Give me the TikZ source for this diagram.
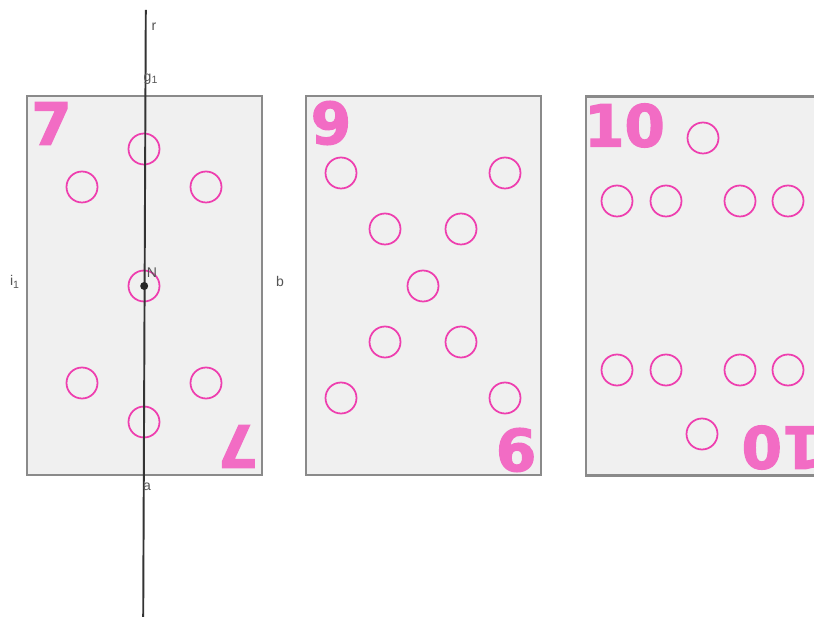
\documentclass[tikz,border=0pt]{standalone}
\usepackage{fontspec}
\setmainfont{Liberation Sans}
\newfontfamily\digitfont{DejaVu Sans}[BoldFeatures={FakeBold=2.2}]
\usetikzlibrary{positioning}
\definecolor{NicePink}{HTML}{F26CC4}
\definecolor{PinkRing}{HTML}{EE3FAF}
\definecolor{CardFill}{HTML}{F0F0F0}
\definecolor{CardEdge}{HTML}{8A8A8A}
\definecolor{LabelGray}{HTML}{555555}

\tikzset{
  card/.style={draw=CardEdge, fill=CardFill, line width=1.2pt, minimum width=4.7cm, minimum height=7.58cm, inner sep=0pt},
  ring/.style={circle, draw=PinkRing, line width=1pt, minimum size=0.62cm, inner sep=0pt},
  bignum/.style={text=NicePink, font=\digitfont\bfseries\fontsize{33}{33}\selectfont, inner sep=0pt},
  lbl/.style={text=LabelGray, font=\fontsize{8}{8}\selectfont, inner sep=0pt}
}

\begin{document}
\begin{tikzpicture}[x=0.02cm, y=-0.02cm]
    \useasboundingbox (0,0) rectangle (814,617);
    \clip (0,0) rectangle (814,617);

    % the three cards
    \node[card] (card7) at (144.5,285.5) {};
    \node[card] (card9) at (423.5,285.5) {};
    \node[card] (card10) at (703.5,286) {};

    % card 7
    \node[bignum] (num7) at (51.5,123.5) {7};
    \node[bignum, rotate=180] (num7r) at (238,446.5) {7};
    \node[ring] (s1) at (144,149) {};
    \node[ring] (s2) at (82,187) {};
    \node[ring] (s3) at (206,187) {};
    \node[ring] (s4) at (144,286) {};
    \node[ring] (s5) at (82,383) {};
    \node[ring] (s6) at (206,383) {};
    \node[ring] (s7) at (144,422) {};

    % card 9
    \node[bignum] (num9) at (331,123) {9};
    \node[bignum, rotate=180] (num9r) at (516,450) {9};
    \node[ring] (n1) at (341,173) {};
    \node[ring] (n2) at (505,173) {};
    \node[ring] (n3) at (385,229) {};
    \node[ring] (n4) at (461,229) {};
    \node[ring] (n5) at (423,286) {};
    \node[ring] (n6) at (385,342) {};
    \node[ring] (n7) at (461,342) {};
    \node[ring] (n8) at (341,398) {};
    \node[ring] (n9) at (505,398) {};

    % card 10
    \node[bignum] (num10) at (624.5,125.5) {10};
    \node[bignum, rotate=180] (num10r) at (782,447.5) {10};
    \node[ring] (t1) at (703,138) {};
    \node[ring] (t2) at (617,201) {};
    \node[ring] (t3) at (666,201) {};
    \node[ring] (t4) at (740,201) {};
    \node[ring] (t5) at (788,201) {};
    \node[ring] (t6) at (617,370) {};
    \node[ring] (t7) at (666,370) {};
    \node[ring] (t8) at (740,370) {};
    \node[ring] (t9) at (788,370) {};
    \node[ring] (t10) at (702,434) {};

    % axis r through card 7
    \coordinate (rtop) at (145.8,10);
    \coordinate (rbot) at (143.2,617);
    \draw[black!80, line width=1.1pt] (rtop) -- (rbot);
    \fill[black!85] (144.2,286) circle (4) coordinate (N);

    % labels
    \node[lbl] (labr) at (154,27) {r};
    \node[lbl] (labg) at (151,79) {g\textsubscript{1}};
    \node[lbl] (labi) at (15,282) {i\textsubscript{1}};
    \node[lbl] (labb) at (280,281) {b};
    \node[lbl] (laba) at (147,487) {a};
    \node[lbl] (labN) at (152,273) {N};
  \end{tikzpicture}
\end{document}
